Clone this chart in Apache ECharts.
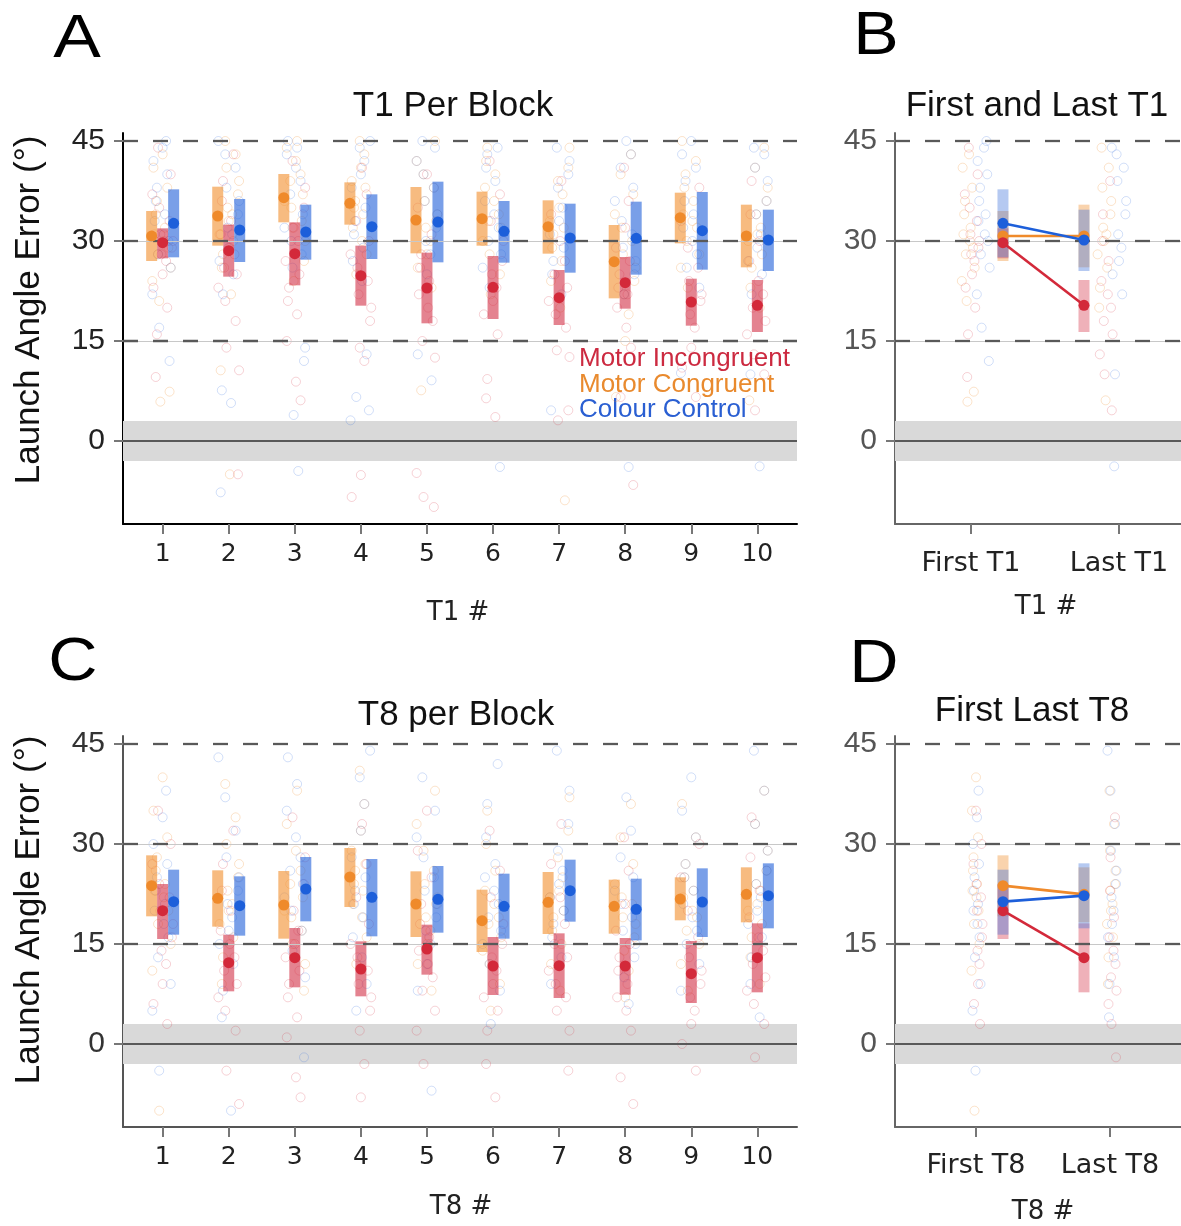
<!DOCTYPE html>
<html>
<head>
<meta charset="utf-8">
<script src="https://cdn.jsdelivr.net/npm/echarts@6/dist/echarts.min.js"></script>
<style>
  html, body { margin: 0; padding: 0; background: #fff; }
  #chart { width: 1181px; height: 1226px; }
</style>
</head>
<body>
<div id="chart"></div>
<script>
// launch angle error (deg)
const blocks = [1, 2, 3, 4, 5, 6, 7, 8, 9, 10];
const yTicks = [0, 15, 30, 45];
const gridLevels = [15, 30, 45];
const zeroBand = [-3, 3];

// T1 per block: mean and interval ends
const t1IncMean = [29.75, 28.55, 28.1, 24.8, 22.95, 23.05, 21.5, 23.75, 20.85, 20.35];
const t1IncLow = [27.4, 24.65, 23.35, 20.3, 17.65, 18.3, 17.4, 19.85, 17.3, 16.35];
const t1IncHigh = [31.9, 32.45, 32.8, 29.3, 28.25, 27.75, 25.65, 27.6, 24.35, 24.15];
const t1ConMean = [30.75, 33.75, 36.5, 35.65, 33.15, 33.35, 32.15, 26.9, 33.5, 30.75];
const t1ConLow = [27.0, 29.3, 32.8, 32.45, 28.15, 29.3, 28.1, 21.4, 29.65, 26.05];
const t1ConHigh = [34.5, 38.15, 40.05, 38.8, 38.1, 37.4, 36.1, 32.4, 37.25, 35.45];
const t1ColMean = [32.65, 31.65, 31.35, 32.15, 32.85, 31.45, 30.45, 30.4, 31.55, 30.15];
const t1ColLow = [27.55, 26.85, 27.2, 27.3, 26.8, 26.75, 25.25, 24.95, 25.7, 25.5];
const t1ColHigh = [37.75, 36.3, 35.45, 37.0, 38.9, 36.0, 35.6, 35.9, 37.35, 34.7];

// T8 per block
const t8IncMean = [20.0, 12.2, 12.95, 11.25, 14.25, 11.7, 11.75, 11.7, 10.55, 12.95];
const t8IncLow = [15.75, 7.9, 8.5, 7.15, 10.4, 7.35, 6.9, 7.4, 6.15, 7.75];
const t8IncHigh = [24.0, 16.4, 17.4, 15.4, 17.9, 16.05, 16.6, 15.9, 15.45, 18.1];
const t8ConMean = [23.75, 21.85, 20.85, 25.05, 21.0, 18.5, 21.25, 20.65, 21.75, 22.45];
const t8ConLow = [19.15, 17.6, 15.8, 20.55, 16.05, 13.8, 16.5, 16.55, 18.55, 18.25];
const t8ConHigh = [28.3, 26.05, 25.95, 29.4, 25.9, 23.15, 25.8, 24.65, 25.0, 26.5];
const t8ColMean = [21.35, 20.75, 23.25, 22.0, 21.7, 20.65, 23.0, 20.2, 21.3, 22.25];
const t8ColLow = [16.4, 16.25, 18.4, 16.15, 16.7, 15.8, 18.35, 15.55, 16.05, 17.35];
const t8ColHigh = [26.15, 25.15, 28.05, 27.75, 26.7, 25.55, 27.65, 24.8, 26.35, 27.1];

// individual participants (faint circles), one list per block
const t1IncPts = [
  [44, 40, 37, 35, 33, 31, 30, 29, 28, 27, 25, 23, 20, 16, 9.6],
  [43, 39, 36, 33, 31, 29, 28, 26, 25, 23, 21, 18, 14, 10.6, -5],
  [42, 38, 35, 32, 30, 28, 27, 25, 23, 21, 19, 15, 8.9, 6.1],
  [41, 37, 33, 30, 28, 26, 24, 22, 20, 18, 14, 12, -5.1, -8.4],
  [40, 35, 31, 28, 26, 24, 22, 20, 18, 15, 12.5, -4.8, -8.4, -9.9],
  [42, 37, 33, 30, 27, 25, 23, 21, 19, 16, 9.3, 6.4, 3.6],
  [39, 34, 30, 27, 25, 23, 21, 19, 17, 13.6, 12.6, 4.6, 3.1],
  [41, 36, 32, 29, 27, 25, 23, 22, 20, 17, 14, 6.6, -6.6],
  [38, 33, 29, 26, 24, 22, 21, 19, 17, 14, 11, 6.6],
  [39, 34, 30, 27, 24, 22, 20, 18, 16, 13, 10, 4.6]
];
const t1ConPts = [
  [43, 41, 38, 36, 34, 32, 31, 30, 29, 28, 26, 24, 21, 7.4, 5.9],
  [45, 43, 41, 39, 37, 35, 34, 33, 31, 30, 28, 26, 22, 10.6, -5],
  [45, 44, 42, 40, 39, 37, 36, 35, 33, 32, 30, 27, 24],
  [45, 43, 41, 39, 38, 36, 35, 34, 32, 30, 28, 25],
  [45, 42, 40, 38, 36, 34, 33, 32, 30, 28, 26, 23, 7.6],
  [44, 42, 40, 38, 36, 34, 33, 32, 30, 28, 25, 22],
  [44, 41, 39, 37, 35, 33, 32, 31, 29, 27, 24, 20, -8.9],
  [43, 40, 37, 34, 32, 30, 28, 26, 24, 22, 19, 15, 6.6],
  [45, 42, 40, 38, 36, 34, 33, 32, 30, 28, 26, 23],
  [44, 41, 38, 36, 34, 32, 31, 30, 28, 26, 23, 20, 6.1]
];
const t1ColPts = [
  [45, 44, 42, 40, 38, 36, 34, 33, 31, 30, 28, 26, 22, 17, 12],
  [45, 43, 41, 38, 36, 34, 32, 31, 29, 27, 25, 22, 7.6, 5.7, -7.7],
  [45, 44, 43, 41, 39, 37, 34, 32, 30, 28, 26, 14, 12, 3.9, -4.5],
  [45, 44, 42, 40, 38, 35, 33, 31, 29, 27, 24, 13, 6.6, 4.6, 3.1],
  [45, 44, 42, 40, 38, 36, 34, 32, 30, 28, 25, 13, 9.1],
  [44, 43, 41, 39, 36, 34, 32, 30, 28, 26, 23, -3.9],
  [44, 42, 40, 38, 35, 33, 31, 29, 27, 25, 22, 4.6],
  [45, 43, 41, 38, 36, 33, 31, 29, 27, 25, 22, -3.9],
  [45, 43, 41, 39, 36, 34, 32, 30, 28, 26, 23, 10.2],
  [44, 43, 41, 39, 36, 34, 31, 29, 27, 25, 22, 10, -3.8]
];
const t8IncPts = [
  [35, 30, 27, 24, 22, 20, 18, 16, 14, 12, 9, 6, 3],
  [32, 27, 23, 20, 17, 15, 13, 11, 9, 7, 5, 2, -4, -9],
  [34, 28, 24, 20, 17, 15, 13, 11, 9, 7, 4, 1, -5, -8],
  [33, 27, 22, 18, 15, 13, 11, 9, 7, 5, 2, -3, -8],
  [35, 29, 25, 21, 18, 16, 14, 12, 10, 8, 5, 2, -3],
  [32, 26, 22, 18, 15, 13, 11, 9, 7, 5, 2, -3, -8],
  [33, 27, 22, 18, 15, 13, 11, 9, 7, 5, 2, -4],
  [31, 26, 21, 17, 15, 13, 11, 9, 7, 5, 2, -5, -9],
  [30, 25, 20, 16, 13, 11, 9, 7, 5, 3, 0, -4],
  [34, 28, 23, 19, 16, 14, 12, 10, 8, 6, 3, -2]
];
const t8ConPts = [
  [40, 35, 31, 28, 26, 24, 23, 22, 20, 18, 15, 11, -10],
  [39, 34, 30, 27, 25, 23, 21, 20, 18, 16, 13, 9],
  [38, 33, 29, 26, 24, 22, 20, 19, 17, 15, 12, 8],
  [41, 36, 32, 29, 27, 26, 24, 23, 21, 19, 16, 12],
  [38, 33, 29, 26, 24, 22, 21, 19, 17, 15, 12, 8],
  [35, 30, 26, 23, 21, 19, 18, 16, 14, 12, 9, 5],
  [37, 32, 28, 25, 23, 22, 20, 19, 17, 15, 12, 8],
  [36, 31, 27, 24, 22, 21, 19, 18, 16, 14, 11, 7],
  [36, 31, 27, 25, 23, 22, 20, 19, 17, 15, 12, 8],
  [38, 33, 29, 26, 24, 23, 21, 20, 18, 16, 13, 9]
];
const t8ColPts = [
  [38, 34, 30, 27, 25, 23, 21, 20, 18, 16, 13, 9, 5, -4],
  [43, 37, 32, 28, 25, 23, 21, 19, 17, 15, 12, 8, 4, -10],
  [43, 39, 35, 31, 28, 26, 24, 22, 20, 17, 14, 10, -2],
  [44, 40, 36, 32, 28, 25, 23, 21, 19, 16, 13, 9, 5],
  [40, 35, 31, 28, 25, 23, 21, 19, 17, 15, 12, 8, -7],
  [42, 36, 31, 27, 25, 23, 21, 19, 17, 15, 12, 8, 3],
  [44, 38, 33, 29, 26, 24, 22, 20, 18, 16, 13, 9],
  [37, 32, 28, 25, 23, 21, 19, 17, 15, 13, 10, 6],
  [40, 35, 31, 27, 25, 23, 21, 19, 17, 15, 12, 8],
  [44, 38, 33, 29, 26, 24, 22, 20, 18, 16, 13, 9, 4]
];

// ---- styling ----
const BAR_W = 11;
const DOT = 11;
const jit = [0, -6, 5, -3, 8, -8, 2, -4, 6, -1, 4, -7, 7, -2, 3, -5, 1, -9, 9];
const conds = [
  { key: 'con', dot: '#ef8a2b', bar: 'rgba(241,142,44,0.6)', pale: 'rgba(241,150,60,0.42)', pt: 'rgba(240,140,40,0.3)', off: -11 },
  { key: 'inc', dot: '#d3293a', bar: 'rgba(208,42,64,0.58)', pale: 'rgba(215,60,80,0.4)', pt: 'rgba(210,40,60,0.26)', off: 0 },
  { key: 'col', dot: '#1d5fda', bar: 'rgba(38,100,218,0.62)', pale: 'rgba(70,120,220,0.4)', pt: 'rgba(40,100,220,0.26)', off: 11 }
];

const t1 = {
  inc: { mean: t1IncMean, lo: t1IncLow, hi: t1IncHigh, pts: t1IncPts },
  con: { mean: t1ConMean, lo: t1ConLow, hi: t1ConHigh, pts: t1ConPts },
  col: { mean: t1ColMean, lo: t1ColLow, hi: t1ColHigh, pts: t1ColPts }
};
const t8 = {
  inc: { mean: t8IncMean, lo: t8IncLow, hi: t8IncHigh, pts: t8IncPts },
  con: { mean: t8ConMean, lo: t8ConLow, hi: t8ConHigh, pts: t8ConPts },
  col: { mean: t8ColMean, lo: t8ColLow, hi: t8ColHigh, pts: t8ColPts }
};

const backdrop = (g) => [
  {
    type: 'line', xAxisIndex: g, yAxisIndex: g, data: [], z: 0, silent: true,
    markArea: { silent: true, itemStyle: { color: '#d9d9d9' }, data: [[{ yAxis: zeroBand[0] }, { yAxis: zeroBand[1] }]] }
  },
  {
    type: 'line', xAxisIndex: g, yAxisIndex: g, data: [], z: 1, silent: true,
    markLine: {
      silent: true, symbol: 'none', label: { show: false },
      data: [
        { yAxis: 15, lineStyle: { color: '#c8c8c8', width: 1, type: 'solid' } },
        { yAxis: 30, lineStyle: { color: '#c8c8c8', width: 1, type: 'solid' } },
        { yAxis: 0, lineStyle: { color: '#595959', width: 2, type: 'solid' } },
        ...gridLevels.map((v) => ({ yAxis: v, lineStyle: { color: '#595959', width: 2.3, type: [15, 15] } }))
      ]
    }
  }
];

const pointSeries = (g, xs, lists, color, shift, spread, ci) => {
  const data = [];
  xs.forEach((x, gi) => {
    lists[gi].forEach((v, i) => {
      const j = jit[(i * 5 + gi * 3 + ci * 7) % jit.length];
      data.push({ value: [x, v], symbolOffset: [shift + j * spread, 0] });
    });
  });
  return {
    type: 'scatter', xAxisIndex: g, yAxisIndex: g, z: 2, silent: true,
    symbol: 'circle', symbolSize: 9,
    itemStyle: { color: 'transparent', borderColor: color, borderWidth: 1 },
    data
  };
};

const barSeries = (g, rows, fill, off) => ({
  type: 'custom', xAxisIndex: g, yAxisIndex: g, z: 3, silent: true,
  renderItem: (params, api) => {
    const top = api.coord([api.value(0), api.value(2)]);
    const bot = api.coord([api.value(0), api.value(1)]);
    return {
      type: 'rect',
      shape: { x: top[0] + off - BAR_W / 2, y: top[1], width: BAR_W, height: bot[1] - top[1] },
      style: { fill }
    };
  },
  data: rows
});

// panels A and C: ten blocks side by side
const blockPanel = (g, d) => {
  const s = [...backdrop(g)];
  conds.forEach((c, ci) => s.push(pointSeries(g, blocks, d[c.key].pts, c.pt, 0, 1.15, ci)));
  conds.forEach((c) => s.push(barSeries(g, blocks.map((b, i) => [b, d[c.key].lo[i], d[c.key].hi[i]]), c.bar, c.off)));
  conds.forEach((c) => s.push({
    type: 'scatter', xAxisIndex: g, yAxisIndex: g, z: 5, silent: true,
    symbol: 'circle', symbolSize: DOT, symbolOffset: [c.off, 0],
    itemStyle: { color: c.dot, opacity: 1 },
    data: blocks.map((b, i) => [b, d[c.key].mean[i]])
  }));
  return s;
};

// panels B and D: first vs last block
const pairPanel = (g, d, pos, ptPos, ptShift, ptSpread) => {
  const first = 0, last = blocks.length - 1;
  const s = [...backdrop(g)];
  conds.forEach((c, ci) => s.push(pointSeries(g, ptPos, [d[c.key].pts[first], d[c.key].pts[last]], c.pt, ptShift[ci], ptSpread, ci)));
  conds.forEach((c) => s.push(barSeries(g, [
    [pos[0], d[c.key].lo[first], d[c.key].hi[first]],
    [pos[1], d[c.key].lo[last], d[c.key].hi[last]]
  ], c.pale, 0)));
  conds.forEach((c, k) => s.push({
    type: 'line', xAxisIndex: g, yAxisIndex: g, z: 5 + k, silent: true,
    symbol: 'circle', symbolSize: DOT, showSymbol: true,
    itemStyle: { color: c.dot },
    lineStyle: { color: c.dot, width: 2.6 },
    data: [[pos[0], d[c.key].mean[first]], [pos[1], d[c.key].mean[last]]]
  }));
  return s;
};

const yAxisFor = (g, lineColor, labelColor) => ({
  gridIndex: g, type: 'value', min: -12.45, max: 46.2,
  axisLine: { show: true, onZero: false, lineStyle: { color: lineColor, width: 2 } },
  axisTick: { show: true, customValues: yTicks, length: 9, lineStyle: { color: '#777', width: 2 } },
  axisLabel: { customValues: yTicks, margin: 18, fontFamily: 'Liberation Sans', fontSize: 30, color: labelColor },
  splitLine: { show: false }
});

const xAxisFor = (g, min, max, ticks, fmt, lineColor, margin, size) => ({
  gridIndex: g, type: 'value', min, max,
  axisLine: { show: true, onZero: false, lineStyle: { color: lineColor, width: 2 } },
  axisTick: { show: true, customValues: ticks, length: 10, lineStyle: { color: '#777', width: 2 } },
  axisLabel: { customValues: ticks, formatter: fmt, margin, fontFamily: 'DejaVu Sans', fontSize: size, color: '#222' },
  splitLine: { show: false }
});

const txt = (x, y, text, size, opts = {}) => ({
  type: 'text', x, y, rotation: opts.rot || 0, scaleX: opts.sx || 1, silent: true,
  style: {
    text, fontSize: size, fontFamily: opts.font || 'Liberation Sans', fill: opts.color || '#111',
    textAlign: opts.align || 'center', textVerticalAlign: 'middle'
  }
});

const chart = echarts.init(document.getElementById('chart'), null, { renderer: 'canvas' });
chart.setOption({
  animation: false,
  backgroundColor: '#fff',
  grid: [
    { left: 123, top: 133, width: 674, height: 391 },
    { left: 895, top: 133, width: 286, height: 391 },
    { left: 123, top: 736, width: 674, height: 391 },
    { left: 895, top: 736, width: 286, height: 391 }
  ],
  xAxis: [
    xAxisFor(0, 0.4, 10.6, blocks, (v) => String(v), '#000', 18, 25),
    xAxisFor(1, 0.4865, 2.419, [1, 2], (v) => (v === 1 ? 'First T1' : 'Last T1'), '#666', 26, 27),
    xAxisFor(2, 0.4, 10.6, blocks, (v) => String(v), '#555', 18, 25),
    xAxisFor(3, 0.3955, 2.53, [1, 2], (v) => (v === 1 ? 'First T8' : 'Last T8'), '#666', 25, 27)
  ],
  yAxis: [
    yAxisFor(0, '#000', '#222'),
    yAxisFor(1, '#666', '#555'),
    yAxisFor(2, '#555', '#333'),
    yAxisFor(3, '#666', '#555')
  ],
  series: [
    ...blockPanel(0, t1),
    ...pairPanel(1, t1, [1.216, 1.7635], [1.034, 1.946], [-7, -4, 8], 0.8),
    ...blockPanel(2, t8),
    ...pairPanel(3, t8, [1.2015, 1.806], [1.0075, 2.015], [-1, 1, 0], 0.5)
  ],
  graphic: [
    txt(77, 40, 'A', 62, { color: '#000', sx: 1.15 }),
    txt(876, 37, 'B', 62, { color: '#000', sx: 1.1 }),
    txt(73, 663, 'C', 62, { color: '#000', sx: 1.1 }),
    txt(874, 665, 'D', 62, { color: '#000', sx: 1.1 }),
    txt(453, 106, 'T1 Per Block', 35),
    txt(1037, 106, 'First and Last T1', 35),
    txt(456, 715, 'T8 per Block', 35),
    txt(1032, 711, 'First Last T8', 35),
    txt(29, 310, 'Launch Angle Error (°)', 35, { rot: Math.PI / 2 }),
    txt(29, 910, 'Launch Angle Error (°)', 35, { rot: Math.PI / 2 }),
    txt(458, 613, 'T1 #', 26, { font: 'DejaVu Sans', color: '#222' }),
    txt(1046, 607, 'T1 #', 26, { font: 'DejaVu Sans', color: '#222' }),
    txt(461, 1207, 'T8 #', 26, { font: 'DejaVu Sans', color: '#222' }),
    txt(1043, 1212, 'T8 #', 26, { font: 'DejaVu Sans', color: '#222' }),
    txt(579, 359, 'Motor Incongruent', 26, { align: 'left', color: '#cc2a40' }),
    txt(579, 385, 'Motor Congruent', 26, { align: 'left', color: '#e98a2e' }),
    txt(579, 410, 'Colour Control', 26, { align: 'left', color: '#2a5fd2' })
  ]
});
</script>
</body>
</html>
